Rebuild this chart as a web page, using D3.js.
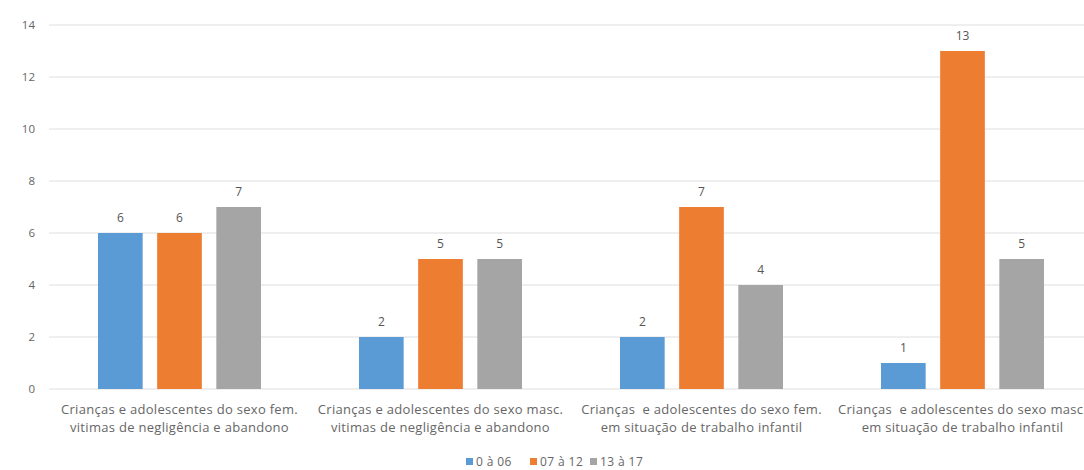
<!DOCTYPE html>
<html>
<head>
<meta charset="utf-8">
<script src="https://cdn.jsdelivr.net/npm/d3@7"></script>
<style>
  body { margin: 0; background: #fff; }
  svg { font-family: "Open Sans", "Liberation Sans", sans-serif; }
  .grid line { stroke: #dedede; }
  .tick text { fill: #666; font-size: 11.5px; }
  .catLabel { fill: #666; font-size: 13px; letter-spacing: 0.3px; }
  .valLabel { fill: #555; font-size: 12px; }
  .legText { fill: #666; font-size: 12px; letter-spacing: 0.4px; }
</style>
</head>
<body>
<div id="chart"></div>
<script>
// categorias (duas linhas cada)
var categories = [
  ["Crianças e adolescentes do sexo fem.", "vitimas de negligência e abandono"],
  ["Crianças e adolescentes do sexo masc.", "vitimas de negligência e abandono"],
  ["Crianças  e adolescentes do sexo fem.", "em situação de trabalho infantil"],
  ["Crianças  e adolescentes do sexo masc.", "em situação de trabalho infantil"]
];
var seriesNames = ["0 à 06", "07 à 12", "13 à 17"];
var age0to06 = [6, 2, 2, 1];
var age07to12 = [6, 5, 7, 13];
var age13to17 = [7, 5, 4, 5];
var yTicks = [0, 2, 4, 6, 8, 10, 12, 14];

var colors = ["#5b9bd5", "#ed7d31", "#a5a5a5"];
var series = [age0to06, age07to12, age13to17];

var width = 1084,
    height = 470,
    margin = {top: 25, right: -9, bottom: 81, left: 49};

var svg = d3.select("#chart").append("svg")
  .attr("width", width)
  .attr("height", height);

var innerW = width - margin.left - margin.right,
    innerH = height - margin.top - margin.bottom;

var g = svg.append("g")
  .attr("transform", "translate(" + margin.left + "," + margin.top + ")");

var x0 = d3.scaleBand()
  .domain(d3.range(categories.length))
  .range([0, innerW])
  .paddingInner(0)
  .paddingOuter(0);

var x1 = d3.scaleBand()
  .domain(d3.range(series.length))
  .range([49, x0.bandwidth() - 49])
  .paddingInner(0.245);

var y = d3.scaleLinear()
  .domain([0, 14])
  .range([innerH, 0]);

// gridlines
g.append("g")
  .attr("class", "grid")
  .selectAll("line")
  .data(yTicks)
  .enter().append("line")
  .attr("x1", 0)
  .attr("x2", innerW)
  .attr("y1", function(d){ return y(d); })
  .attr("y2", function(d){ return y(d); });

// y axis labels
var yAxis = d3.axisLeft(y).tickValues(yTicks).tickSize(0).tickPadding(14);
g.append("g")
  .call(yAxis)
  .call(function(a){ a.select(".domain").remove(); })
  .selectAll("text")
  .attr("fill", "#666")
  .style("font-family", "'Open Sans', sans-serif");

// bars
var groups = g.selectAll(".grp")
  .data(categories)
  .enter().append("g")
  .attr("class", "grp")
  .attr("transform", function(d, i){ return "translate(" + x0(i) + ",0)"; });

groups.each(function(c, ci) {
  var grp = d3.select(this);
  series.forEach(function(s, si) {
    grp.append("rect")
      .attr("x", x1(si))
      .attr("y", y(s[ci]))
      .attr("width", x1.bandwidth())
      .attr("height", innerH - y(s[ci]))
      .attr("fill", colors[si]);

    grp.append("text")
      .attr("class", "valLabel")
      .attr("x", x1(si) + x1.bandwidth()/2)
      .attr("y", y(s[ci]) - 11)
      .attr("text-anchor", "middle")
      .text(s[ci]);
  });

  var lbl = grp.append("text")
    .attr("class", "catLabel")
    .attr("text-anchor", "middle")
    .attr("xml:space", "preserve");
  c.forEach(function(line, li) {
    lbl.append("tspan")
      .attr("x", x0.bandwidth()/2)
      .attr("y", innerH + 25 + li * 18)
      .text(line);
  });
});

// legend
var legend = svg.append("g")
  .attr("transform", "translate(466," + 463 + ")");
var legX = [0, 64, 124];
seriesNames.forEach(function(name, i) {
  legend.append("rect")
    .attr("x", legX[i])
    .attr("y", -5)
    .attr("width", 7)
    .attr("height", 7)
    .attr("fill", colors[i]);
  legend.append("text")
    .attr("class", "legText")
    .attr("x", legX[i] + 10)
    .attr("y", 2.5)
    .text(name);
});
</script>
</body>
</html>
